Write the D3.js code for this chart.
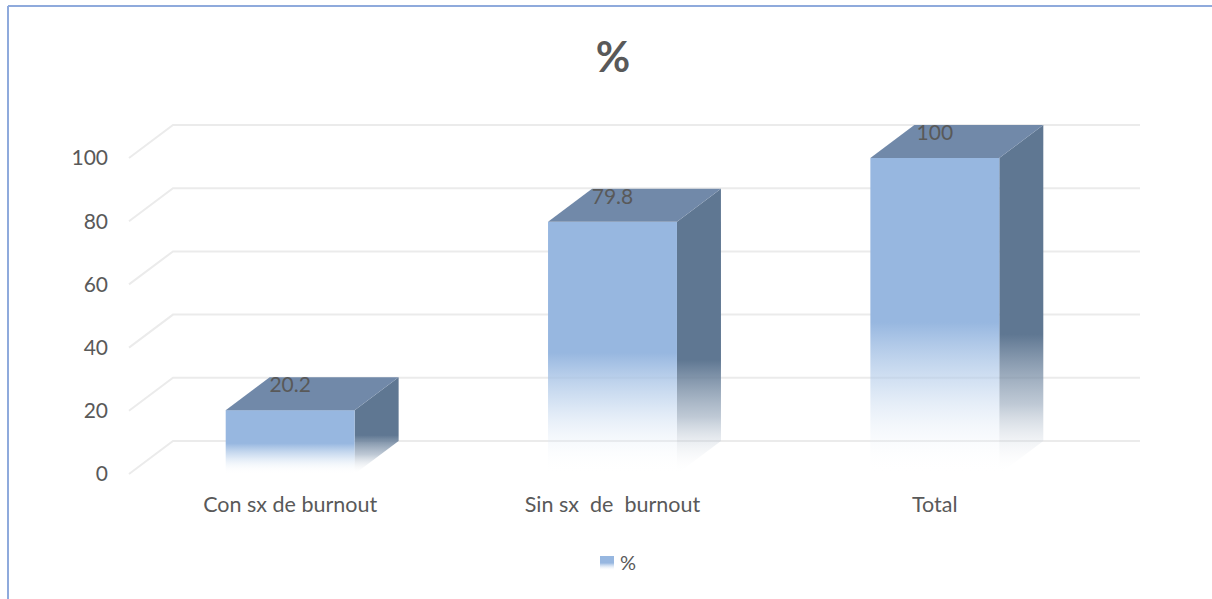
<!DOCTYPE html>
<html>
<head>
<meta charset="utf-8">
<script src="https://cdn.jsdelivr.net/npm/d3@7"></script>
<style>
  html, body { margin: 0; padding: 0; background: #fff; }
  svg { display: block; }
  text { font-family: Lato, "Open Sans", sans-serif; fill: #595959; }
</style>
</head>
<body>
<svg id="chart" width="1212" height="599"></svg>
<script>
const categories = ["Con sx de burnout", "Sin sx  de  burnout", "Total"];
const values = [20.2, 79.8, 100];
const yTicks = [0, 20, 40, 60, 80, 100];
const seriesName = "%";
const title = "%";

const W = 1212, H = 599;
const svg = d3.select("#chart");

// frame border (top and left only visible)
svg.append("line").attr("x1", 8).attr("y1", 6).attr("x2", W).attr("y2", 6)
  .attr("stroke", "#8faadc").attr("stroke-width", 2);
svg.append("line").attr("x1", 8).attr("y1", 6).attr("x2", 8).attr("y2", H)
  .attr("stroke", "#8faadc").attr("stroke-width", 2);

const x = d3.scaleBand().domain(categories).range([129, 1096]).padding(0);
const y = d3.scaleLinear().domain([0, 100]).range([474, 158]);
const dx = 44, dy = -33;
const barW = x.bandwidth() * 0.4;

const defs = svg.append("defs");
function grad(id, stops) {
  const g = defs.append("linearGradient").attr("id", id)
    .attr("x1", 0).attr("y1", 0).attr("x2", 0).attr("y2", 1);
  stops.forEach(s => g.append("stop").attr("offset", s[0]).attr("stop-color", s[1]).attr("stop-opacity", s[2]));
}
grad("gFront", [[0, "#97b7e0", 1], [0.52, "#97b7e0", 1], [0.72, "#b5cdea", 0.55], [1, "#ffffff", 0]]);
grad("gSide", [[0, "#5f7792", 1], [0.6, "#5f7792", 1], [0.8, "#8a9db3", 0.55], [1, "#ffffff", 0]]);
grad("gLegend", [[0, "#97b7e0", 1], [0.5, "#97b7e0", 1], [1, "#ffffff", 0.2]]);

// gridlines (back wall + diagonal on side wall)
const grid = svg.append("g");
yTicks.forEach(t => {
  const y0 = y(t);
  grid.append("path")
    .attr("d", `M${x.range()[0]},${y0} L${x.range()[0] + dx},${y0 + dy} L${x.range()[1] + dx},${y0 + dy}`)
    .attr("fill", "none").attr("stroke", "#ebebeb").attr("stroke-width", 2);
});

// y tick labels
svg.append("g").selectAll("text").data(yTicks).join("text")
  .attr("x", 108).attr("y", d => y(d)).attr("dy", "0.35em")
  .attr("text-anchor", "end").attr("font-size", 21).text(d => d);

// bars
const bars = svg.append("g").selectAll("g").data(categories).join("g");
bars.each(function(c, i) {
  const g = d3.select(this);
  const x0 = x(c) + (x.bandwidth() - barW) / 2, x1 = x0 + barW;
  const yt = y(values[i]), yb = y(0);
  g.append("path")
    .attr("d", `M${x1},${yt} L${x1 + dx},${yt + dy} L${x1 + dx},${yb + dy} L${x1},${yb} Z`)
    .attr("fill", "url(#gSide)");
  g.append("rect").attr("x", x0).attr("y", yt).attr("width", barW).attr("height", yb - yt)
    .attr("fill", "url(#gFront)");
  g.append("path")
    .attr("d", `M${x0},${yt} L${x0 + dx},${yt + dy} L${x1 + dx},${yt + dy} L${x1},${yt} Z`)
    .attr("fill", "#7189a9");
  g.append("text").attr("x", x0 + barW / 2).attr("y", yt + dy + 15)
    .attr("text-anchor", "middle").attr("font-size", 21).attr("fill", "#404040")
    .text(values[i]);
});

// category labels
svg.append("g").selectAll("text").data(categories).join("text")
  .attr("x", d => x(d) + x.bandwidth() / 2).attr("y", 512)
  .attr("text-anchor", "middle").attr("font-size", 21.5)
  .style("white-space", "pre").attr("xml:space", "preserve")
  .text(d => d);

// title
svg.append("text").attr("x", 613).attr("y", 72).attr("text-anchor", "middle")
  .attr("font-size", 42).attr("font-weight", "bold").text(title);

// legend
svg.append("rect").attr("x", 600).attr("y", 556).attr("width", 14).attr("height", 14)
  .attr("fill", "url(#gLegend)");
svg.append("text").attr("x", 620).attr("y", 570).attr("font-size", 20).text(seriesName);
</script>
</body>
</html>
